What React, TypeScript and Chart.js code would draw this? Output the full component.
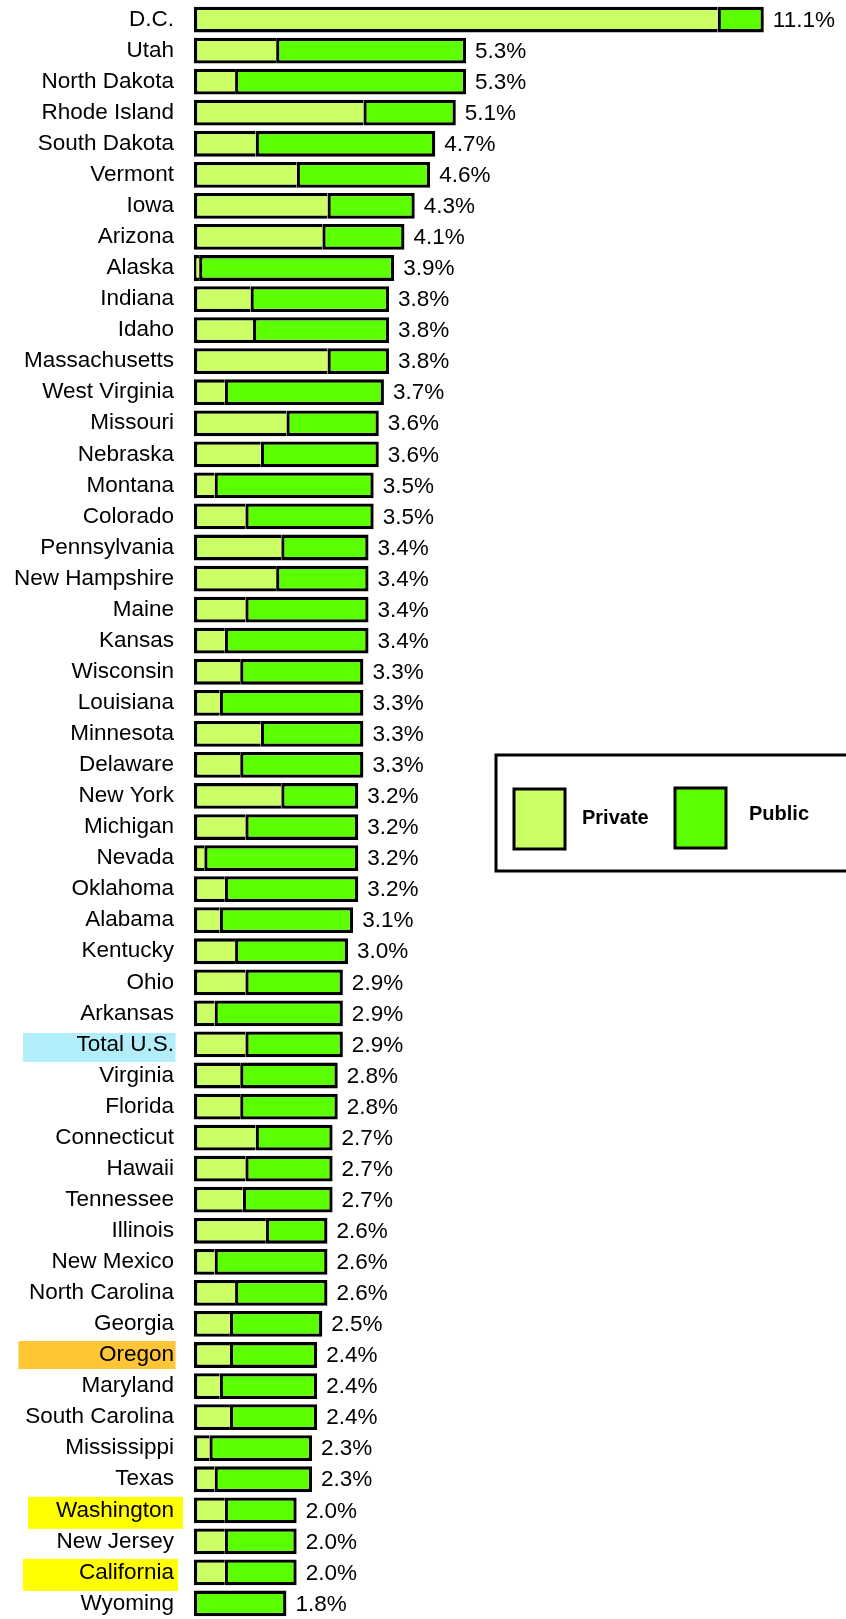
import React, { useEffect, useRef } from 'react';
import { Chart, registerables } from 'chart.js';

Chart.register(...registerables);

const categories = [
  'D.C.', 'Utah', 'North Dakota', 'Rhode Island', 'South Dakota', 'Vermont', 'Iowa', 'Arizona',
  'Alaska', 'Indiana', 'Idaho', 'Massachusetts', 'West Virginia', 'Missouri', 'Nebraska', 'Montana',
  'Colorado', 'Pennsylvania', 'New Hampshire', 'Maine', 'Kansas', 'Wisconsin', 'Louisiana', 'Minnesota',
  'Delaware', 'New York', 'Michigan', 'Nevada', 'Oklahoma', 'Alabama', 'Kentucky', 'Ohio', 'Arkansas',
  'Total U.S.', 'Virginia', 'Florida', 'Connecticut', 'Hawaii', 'Tennessee', 'Illinois', 'New Mexico',
  'North Carolina', 'Georgia', 'Oregon', 'Maryland', 'South Carolina', 'Mississippi', 'Texas',
  'Washington', 'New Jersey', 'California', 'Wyoming',
];

const privateShare = [
  10.2, 1.6, 0.8, 3.3, 1.2, 2.0, 2.6, 2.5,
  0.1, 1.1, 1.15, 2.6, 0.6, 1.8, 1.3, 0.4,
  1.0, 1.7, 1.6, 1.0, 0.6, 0.9, 0.5, 1.3,
  0.9, 1.7, 1.0, 0.2, 0.6, 0.5, 0.8, 1.0, 0.4,
  1.0, 0.9, 0.9, 1.2, 1.0, 0.95, 1.4, 0.4,
  0.8, 0.7, 0.7, 0.5, 0.7, 0.3, 0.4,
  0.6, 0.6, 0.6, 0.0,
];

const publicShare = [
  0.9, 3.7, 4.5, 1.8, 3.5, 2.6, 1.7, 1.6,
  3.8, 2.7, 2.65, 1.2, 3.1, 1.8, 2.3, 3.1,
  2.5, 1.7, 1.8, 2.4, 2.8, 2.4, 2.8, 2.0,
  2.4, 1.5, 2.2, 3.0, 2.6, 2.6, 2.2, 1.9, 2.5,
  1.9, 1.9, 1.9, 1.5, 1.7, 1.75, 1.2, 2.2,
  1.8, 1.8, 1.7, 1.9, 1.7, 2.0, 1.9,
  1.4, 1.4, 1.4, 1.8,
];

const totalLabels = [
  '11.1%', '5.3%', '5.3%', '5.1%', '4.7%', '4.6%', '4.3%', '4.1%',
  '3.9%', '3.8%', '3.8%', '3.8%', '3.7%', '3.6%', '3.6%', '3.5%',
  '3.5%', '3.4%', '3.4%', '3.4%', '3.4%', '3.3%', '3.3%', '3.3%',
  '3.3%', '3.2%', '3.2%', '3.2%', '3.2%', '3.1%', '3.0%', '2.9%', '2.9%',
  '2.9%', '2.8%', '2.8%', '2.7%', '2.7%', '2.7%', '2.6%', '2.6%',
  '2.6%', '2.5%', '2.4%', '2.4%', '2.4%', '2.3%', '2.3%',
  '2.0%', '2.0%', '2.0%', '1.8%',
];

const seriesNames = ['Private', 'Public'];
const highlightedCategories = ['Total U.S.', 'Oregon', 'Washington', 'California'];

const PRIVATE_COLOR = '#ccff66';
const PUBLIC_COLOR = '#5cff00';
const FONT = '"Liberation Sans", Arial, sans-serif';
const BORDER = 3.3;

const highlightStyle: Record<string, { color: string; left: number; right: number; dy: number; h: number }> = {
  'Total U.S.': { color: '#b2eefa', left: 23, right: 175.5, dy: 3, h: 29 },
  Oregon: { color: '#ffc535', left: 18.5, right: 175.5, dy: 0, h: 28 },
  Washington: { color: '#ffff00', left: 28, right: 183, dy: 2.5, h: 32 },
  California: { color: '#ffff00', left: 23, right: 178, dy: 2.5, h: 32 },
};

export default function App() {
  const canvasRef = useRef<HTMLCanvasElement | null>(null);

  useEffect(() => {
    const canvas = canvasRef.current;
    if (!canvas) return;

    const highlightPlugin = {
      id: 'highlightLabels',
      beforeDraw(chart: any) {
        const ctx = chart.ctx;
        const y = chart.scales.y;
        ctx.save();
        highlightedCategories.forEach((name) => {
          const idx = categories.indexOf(name);
          const s = highlightStyle[name];
          if (idx < 0 || !s) return;
          const cy = y.getPixelForValue(idx) + s.dy;
          ctx.fillStyle = s.color;
          ctx.fillRect(s.left, cy - s.h / 2, s.right - s.left, s.h);
        });
        ctx.restore();
      },
    };

    const valueLabelPlugin = {
      id: 'valueLabels',
      afterDatasetsDraw(chart: any) {
        const ctx = chart.ctx;
        const x = chart.scales.x;
        const y = chart.scales.y;
        ctx.save();
        ctx.font = `22.5px ${FONT}`;
        ctx.fillStyle = '#000';
        ctx.textAlign = 'left';
        ctx.textBaseline = 'middle';
        categories.forEach((_, i) => {
          const px = x.getPixelForValue(privateShare[i] + publicShare[i]);
          const py = y.getPixelForValue(i);
          ctx.fillText(totalLabels[i], px + 9, py + 1);
        });
        ctx.restore();
      },
    };

    const legendPlugin = {
      id: 'boxLegend',
      afterDraw(chart: any) {
        const ctx = chart.ctx;
        ctx.save();
        ctx.lineWidth = 3;
        ctx.strokeStyle = '#000';
        ctx.fillStyle = '#fff';
        ctx.beginPath();
        ctx.rect(496, 755, 360, 116);
        ctx.fill();
        ctx.stroke();
        const colors = [PRIVATE_COLOR, PUBLIC_COLOR];
        const swatchX = [514, 675];
        const swatchY = [789, 788];
        const textX = [582, 749];
        const textY = [818, 814];
        ctx.font = `bold 20px ${FONT}`;
        ctx.textAlign = 'left';
        ctx.textBaseline = 'middle';
        seriesNames.forEach((name, i) => {
          ctx.fillStyle = colors[i];
          ctx.fillRect(swatchX[i], swatchY[i], 51, 60);
          ctx.strokeRect(swatchX[i], swatchY[i], 51, 60);
          ctx.fillStyle = '#000';
          ctx.fillText(name, textX[i], textY[i]);
        });
        ctx.restore();
      },
    };

    const chart = new Chart(canvas, {
      type: 'bar',
      data: {
        labels: categories,
        datasets: [
          {
            label: seriesNames[0],
            data: privateShare,
            backgroundColor: PRIVATE_COLOR,
            borderColor: '#000',
            borderWidth: BORDER,
            borderSkipped: 'end',
            inflateAmount: 0,
            barPercentage: 0.83,
            categoryPercentage: 1,
          },
          {
            label: seriesNames[1],
            data: publicShare,
            backgroundColor: PUBLIC_COLOR,
            borderColor: '#000',
            borderWidth: BORDER,
            borderSkipped: false,
            inflateAmount: 0,
            barPercentage: 0.83,
            categoryPercentage: 1,
          },
        ],
      },
      options: {
        indexAxis: 'y',
        responsive: false,
        animation: false,
        devicePixelRatio: 1,
        layout: { autoPadding: false, padding: { top: 4, bottom: 0, left: 0, right: 36 } },
        plugins: {
          legend: { display: false },
          tooltip: { enabled: false },
        },
        scales: {
          x: {
            stacked: true,
            display: false,
            min: 0,
            max: 12,
          },
          y: {
            stacked: true,
            grid: { display: false, drawTicks: false },
            border: { display: false },
            ticks: {
              autoSkip: false,
              padding: 20,
              color: '#000',
              font: { family: FONT, size: 22.5 },
            },
            afterFit: (scale: any) => {
              scale.width = 194;
              scale.paddingTop = 0;
              scale.paddingBottom = 0;
            },
          },
        },
      },
      plugins: [highlightPlugin, valueLabelPlugin, legendPlugin],
    } as any);

    return () => chart.destroy();
  }, []);

  return (
    <div style={{ position: 'absolute', left: 0, top: 0, width: 846, height: 1619, background: '#fff' }}>
      <canvas ref={canvasRef} width={846} height={1619} />
    </div>
  );
}
